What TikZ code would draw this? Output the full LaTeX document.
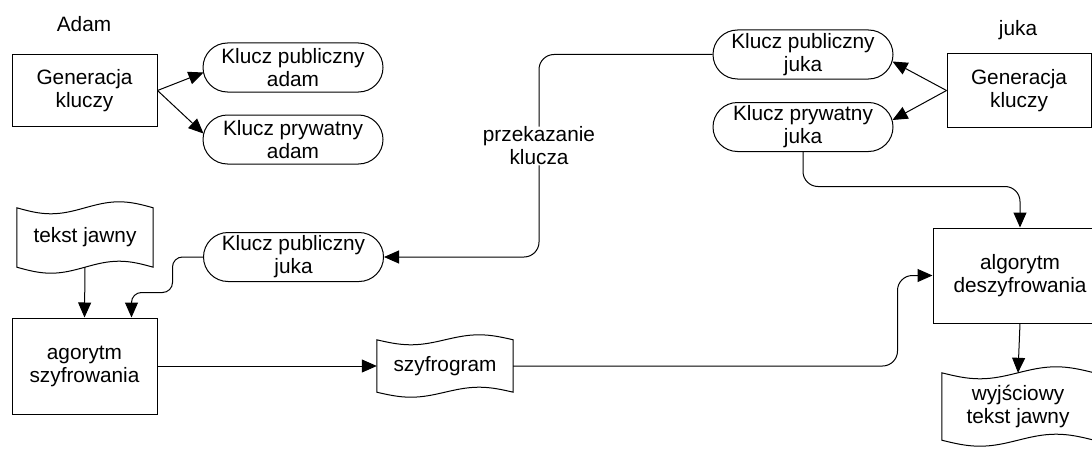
\documentclass[tikz,border=0pt]{standalone}
\usepackage{fontspec}
\setmainfont{Liberation Sans}
\usetikzlibrary{arrows.meta,shapes.misc,calc}
\newcommand\tapeoutline[2]{%
  \draw[line] let \p1=(#1.north west), \p2=(#1.south east), \n1={(\x2-\x1)/4} in
   (\p1) sin ++(\n1,-#2pt) cos ++(\n1,#2pt) sin ++(\n1,#2pt) cos ++(\n1,-#2pt)
   -- (\p2) sin ++(-\n1,#2pt) cos ++(-\n1,-#2pt) sin ++(-\n1,-#2pt) cos ++(-\n1,#2pt) -- cycle;}
\begin{document}
\begin{tikzpicture}[x=1pt,y=-1pt,
  every node/.style={font=\fontsize{20.8}{23}\selectfont, align=center, inner sep=0pt},
  line/.style={line width=1pt, black},
  procbox/.style={draw, line width=1pt},
  keybox/.style={draw, line width=1pt, rounded rectangle, minimum width=180pt, minimum height=49pt},
  conn/.style={line width=1pt, -{Triangle[length=15pt,width=13pt]}}]
\useasboundingbox (0,0) rectangle (1092,452);
\clip (0,0) rectangle (1092,452);

% Adam side
\node[anchor=base] (adam) at (84,32) {Adam};
\node[procbox, minimum width=145pt, minimum height=71pt] (genA) at (84.5,90.5) {Generacja\\kluczy};
\node[keybox] (pubA) at (293,67.5) {Klucz publiczny\\adam};
\node[keybox] (privA) at (293,139.5) {Klucz prywatny\\adam};

% juka side
\node[anchor=base] (juka) at (1018,36) {juka};
\node[procbox, minimum width=144pt, minimum height=73pt] (genJ) at (1019,90.5) {Generacja\\kluczy};
\node[keybox] (pubJ) at (803,54.5) {Klucz publiczny\\juka};
\node[keybox] (privJ) at (803,127) {Klucz prywatny\\juka};

% middle / bottom
\node (pk) at (539,146) {przekazanie\\klucza};
\node[keybox] (pubJ2) at (293.5,257) {Klucz publiczny\\juka};
\node[minimum width=136pt, minimum height=59pt] (tj) at (85,237.5) {tekst jawny};
\tapeoutline{tj}{6}
\node[procbox, minimum width=145pt, minimum height=96pt] (enc) at (84.5,366) {agorytm\\szyfrowania};
\node[minimum width=136pt, minimum height=52pt] (szy) at (445,366) {szyfrogram};
\tapeoutline{szy}{5}
\node[procbox, minimum width=174pt, minimum height=95pt] (dec) at (1020,275.5) {algorytm\\deszyfrowania};
\node[minimum width=152pt, minimum height=67pt] (wy) at (1018,406.5) {wyjściowy\\tekst jawny};
\tapeoutline{wy}{6}

% connectors
\draw[conn] (genA.east) -- ($(pubA.west)+(1,5)$);
\draw[conn] (genA.east) -- ($(privA.west)+(1,-6)$);
\draw[conn] (genJ.west) -- ($(pubJ.east)+(-1,7)$);
\draw[conn] (genJ.west) -- ($(privJ.east)+(-1,-7)$);
\draw[line, rounded corners=15pt] (pubJ.west) -| (pk.north);
\draw[conn, rounded corners=15pt] (pk.south) |- (pubJ2.east);
\coordinate (encIn) at ($(enc.north west)+(120,0)$);
\draw[conn, rounded corners=10pt] (pubJ2.west) -- ++(-30.5,0) |- ($(encIn)+(0,-25)$) -- (encIn);
\draw[conn] (tj.south) -- (enc.north);
\draw[conn] (enc.east) -- (szy.west);
\draw[conn, rounded corners=15pt] (szy.east) -| ($(dec.west)+(-35,0)$) -- (dec.west);
\draw[conn, rounded corners=15pt] (privJ.south) |- ($(dec.north)+(0,-41)$) -- (dec.north);
\draw[conn] (dec.south) -- (wy.north);
\end{tikzpicture}
\end{document}
